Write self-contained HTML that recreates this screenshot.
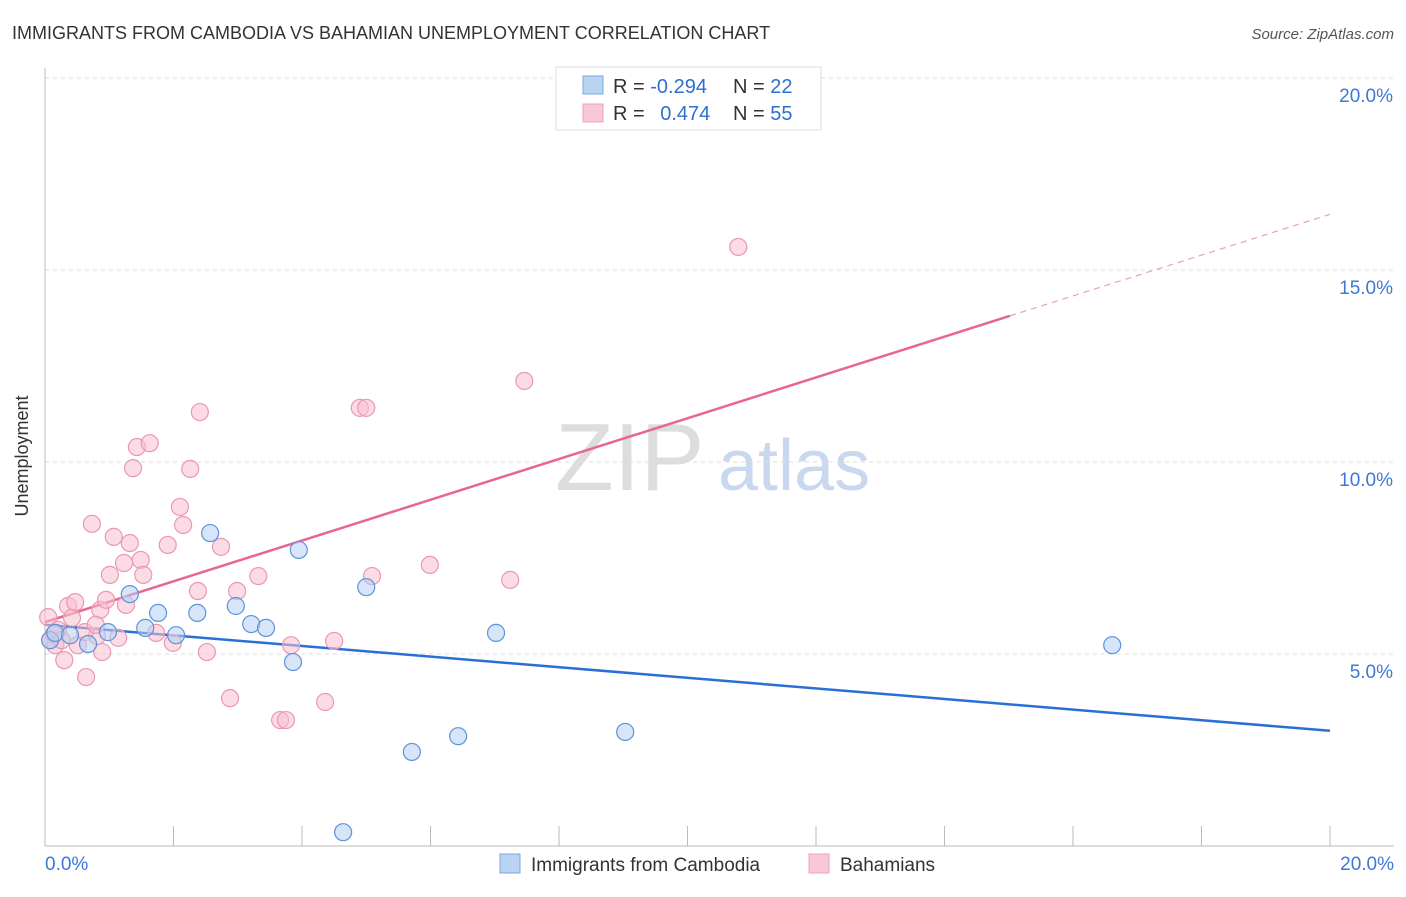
<!DOCTYPE html>
<html><head><meta charset="utf-8"><style>
body{margin:0;background:#fff;font-family:"Liberation Sans",sans-serif}
svg text{font-family:"Liberation Sans",sans-serif}
</style></head><body>
<svg id="chart" width="1406" height="892" viewBox="0 0 1406 892">
<text x="12" y="39" font-size="18" fill="#333">IMMIGRANTS FROM CAMBODIA VS BAHAMIAN UNEMPLOYMENT CORRELATION CHART</text>
<text x="1394" y="39" font-size="15" fill="#555" font-style="italic" text-anchor="end">Source: ZipAtlas.com</text>
<g>
<text x="555" y="490" font-size="96" fill="#ddd" font-family="Liberation Serif">ZIP</text>
<text x="718" y="490" font-size="72" fill="#c9d8ee">atlas</text>
</g>
<g id="grid"></g><g id="axes"></g><g id="trends"></g><g id="points"></g>
<text x="28" y="456" font-size="18" fill="#333" transform="rotate(-90 28 456)" text-anchor="middle">Unemployment</text>
<g>
<rect x="556" y="67" width="265" height="63" fill="#fff" stroke="#ddd"/>
<rect x="583" y="76" width="20" height="18" fill="#b9d3f3" stroke="#7aa7e0"/>
<rect x="583" y="104" width="20" height="18" fill="#f9c8d6" stroke="#eea0b8"/>
<text x="613" y="93" font-size="20" fill="#333">R = <tspan fill="#2f6fd0">-0.294</tspan></text>
<text x="733" y="93" font-size="20" fill="#333">N = <tspan fill="#2f6fd0">22</tspan></text>
<text x="613" y="120" font-size="20" fill="#333">R = <tspan fill="#2f6fd0" dx="10">0.474</tspan></text>
<text x="733" y="120" font-size="20" fill="#333">N = <tspan fill="#2f6fd0">55</tspan></text>
</g>
<g>
<rect x="500" y="854" width="20" height="19" fill="#b9d3f3" stroke="#7aa7e0"/>
<text x="531" y="871" font-size="19" fill="#333">Immigrants from Cambodia</text>
<rect x="809" y="854" width="20" height="19" fill="#f9c8d6" stroke="#eea0b8"/>
<text x="840" y="871" font-size="19" fill="#333">Bahamians</text>
</g>
</svg>
<script>
const blueX=[0.08,0.16,0.39,0.67,0.98,1.32,1.56,1.76,2.04,2.37,2.57,2.97,3.21,3.44,3.86,3.95,4.64,5.00,5.71,6.43,7.02,9.03,16.61];
const blueY=[5.36,5.55,5.49,5.26,5.57,6.56,5.68,6.07,5.49,6.07,8.15,6.25,5.78,5.68,4.79,7.71,0.36,6.74,2.45,2.86,5.55,2.97,5.23];
const pinkX=[0.05,0.08,0.16,0.20,0.30,0.36,0.42,0.47,0.51,0.64,0.73,0.81,0.86,0.89,0.95,1.01,1.07,1.14,1.23,1.26,1.32,1.37,1.43,1.49,1.53,1.63,1.73,1.91,1.99,2.10,2.15,2.26,2.38,2.41,2.52,2.74,2.88,2.99,3.32,3.66,3.75,3.83,4.36,4.50,4.90,5.00,5.09,5.99,7.24,7.46,10.79,0.14,0.26,0.62,0.79];
const pinkY=[5.96,5.36,5.23,5.63,4.84,6.25,5.94,6.35,5.23,4.40,8.39,5.47,6.15,5.05,6.41,7.06,8.05,5.42,7.37,6.28,7.89,9.84,10.39,7.45,7.06,10.49,5.55,7.84,5.29,8.83,8.36,9.82,6.64,11.30,5.05,7.79,3.85,6.64,7.03,3.28,3.28,5.23,3.75,5.34,11.41,11.41,7.03,7.32,6.93,12.11,15.60,5.52,5.36,5.57,5.76];
const blueTrend=[5.76,3.00];
const pinkTrend=[5.83,16.45];
const pinkSolidEnd=15.02;
const yTicks=[5,10,15,20];
const yTickLabels=["5.0%","10.0%","15.0%","20.0%"];
const xTickCount=10;

const NS="http://www.w3.org/2000/svg";
const sx=v=>45+v*(1285/20);
const sy=v=>846-v*(192/5);
function mk(tag,attrs,parent){const e=document.createElementNS(NS,tag);for(const k in attrs)e.setAttribute(k,attrs[k]);parent.appendChild(e);return e;}
const grid=document.getElementById('grid'),axes=document.getElementById('axes'),trends=document.getElementById('trends'),pts=document.getElementById('points');
yTicks.forEach((t,i)=>{
 const l=mk('line',{x1:45,x2:1394,y1:sy(t),y2:sy(t),stroke:'#ddd','stroke-dasharray':'4,4'},grid);
 
 
 const tx=mk('text',{x:1393,y:sy(t)+24,'font-size':19,fill:'#3b78d8','text-anchor':'end'},grid);
 tx.textContent=yTickLabels[i];
 
 
});
let a=mk('line',{x1:45,x2:45,y1:68,y2:846,stroke:'#bbb'},axes);


a=mk('line',{x1:45,x2:1394,y1:846,y2:846,stroke:'#bbb'},axes);


for(let i=1;i<=xTickCount;i++){
 const x=sx(i*20/xTickCount);
 const t=mk('line',{x1:x,x2:x,y1:826,y2:846,stroke:'#bbb'},axes);
 
 
}
let xl=mk('text',{x:45,y:870,'font-size':19,fill:'#3b78d8'},axes);xl.textContent='0.0%';


xl=mk('text',{x:1394,y:870,'font-size':19,fill:'#3b78d8','text-anchor':'end'},axes);xl.textContent='20.0%';



function dots(X,Y,fill,stroke,name){X.forEach((x,i)=>{
 const c=mk('circle',{cx:sx(x),cy:sy(Y[i]),r:8.5,fill:fill,'fill-opacity':0.55,stroke:stroke,'stroke-width':1.2},pts);
 
 
});}
dots(pinkX,pinkY,'#f7bfd0','#eb97b2','point-bahamians');
dots(blueX,blueY,'#b5d0f2','#5c93dc','point-cambodia');

let tl=mk('line',{x1:sx(0),y1:sy(blueTrend[0]),x2:sx(20),y2:sy(blueTrend[1]),stroke:'#2a6fd6','stroke-width':2.5},trends);


const pAt=x=>pinkTrend[0]+(pinkTrend[1]-pinkTrend[0])*x/20;
tl=mk('line',{x1:sx(0),y1:sy(pinkTrend[0]),x2:sx(pinkSolidEnd),y2:sy(pAt(pinkSolidEnd)),stroke:'#e8668f','stroke-width':2.5},trends);


tl=mk('line',{x1:sx(pinkSolidEnd),y1:sy(pAt(pinkSolidEnd)),x2:sx(20),y2:sy(pinkTrend[1]),stroke:'#e8a0b6','stroke-width':1.2,'stroke-dasharray':'6,5'},trends);


</script>
</body></html>
